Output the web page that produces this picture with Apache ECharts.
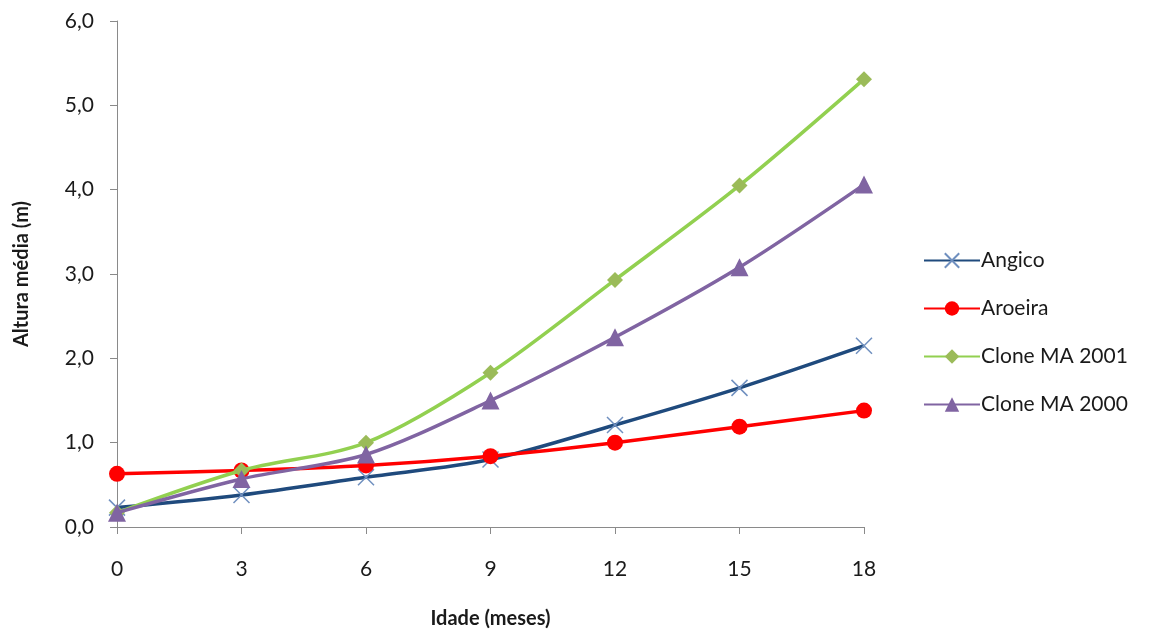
<!DOCTYPE html>
<html>
<head>
<meta charset="utf-8">
<script src="https://cdn.jsdelivr.net/npm/echarts@6/dist/echarts.min.js"></script>
<style>
  html, body { margin: 0; padding: 0; background: #fff; }
  #chart { width: 1159px; height: 633px; }
</style>
</head>
<body>
<div id="chart"></div>
<script>
// Idade (meses)
const ages = [0, 3, 6, 9, 12, 15, 18];
// Altura média (m) por espécie / clone
const angico = [0.23, 0.38, 0.59, 0.80, 1.21, 1.65, 2.15];
const aroeira = [0.63, 0.67, 0.73, 0.84, 1.00, 1.19, 1.38];
const cloneMA2001 = [0.17, 0.67, 1.00, 1.83, 2.93, 4.05, 5.31];
const cloneMA2000 = [0.17, 0.57, 0.86, 1.50, 2.25, 3.08, 4.06];

const FONT = 'Lato, "Open Sans", sans-serif';

function pairs(vals) {
  return ages.map((a, i) => [a, vals[i]]);
}

const chart = echarts.init(document.getElementById('chart'), null, { renderer: 'canvas' });

chart.setOption({
  animation: false,
  backgroundColor: '#ffffff',
  grid: {
    left: 117, right: 295, top: 21, bottom: 106,
    containLabel: false,
    outerBoundsMode: 'none'
  },
  legend: {
    orient: 'vertical',
    left: 918,
    top: 245,
    itemGap: 27,
    itemWidth: 56,
    itemHeight: 18,
    textStyle: { fontFamily: FONT, fontSize: 21, color: '#1a1a1a', padding: [0, 0, 0, -4] },
    data: ['Angico', 'Aroeira', 'Clone MA 2001', 'Clone MA 2000']
  },
  xAxis: {
    type: 'value',
    min: 0, max: 18, interval: 3,
    name: 'Idade (meses)',
    nameLocation: 'middle',
    nameGap: 82,
    nameTextStyle: { fontFamily: FONT, fontSize: 20, fontWeight: 'bold', color: '#1a1a1a' },
    axisLine: { show: true, onZero: false, lineStyle: { color: '#8a8a8a', width: 1 } },
    axisTick: { show: true, inside: false, length: 7, lineStyle: { color: '#8a8a8a' } },
    axisLabel: { fontFamily: FONT, fontSize: 21, color: '#1a1a1a', margin: 32 },
    splitLine: { show: false }
  },
  yAxis: {
    type: 'value',
    min: 0, max: 6, interval: 1,
    name: 'Altura média (m)',
    nameLocation: 'middle',
    nameGap: 85,
    nameRotate: 90,
    nameTextStyle: { fontFamily: FONT, fontSize: 20, fontWeight: 'bold', color: '#1a1a1a' },
    axisLine: { show: true, lineStyle: { color: '#8a8a8a', width: 1 } },
    axisTick: { show: true, inside: false, length: 7, lineStyle: { color: '#8a8a8a' } },
    axisLabel: {
      fontFamily: FONT, fontSize: 21, color: '#1a1a1a', margin: 23,
      formatter: v => v.toFixed(1).replace('.', ',')
    },
    splitLine: { show: false }
  },
  series: [
    {
      name: 'Angico',
      type: 'line',
      smooth: 0.3,
      data: pairs(angico),
      symbol: 'path://M0,0L10,10M10,0L0,10',
      symbolSize: 16,
      lineStyle: { color: '#1f4a7d', width: 3.5 },
      itemStyle: { color: 'rgba(0,0,0,0)', borderColor: '#6f8fbf', borderWidth: 1.5 },
      z: 3
    },
    {
      name: 'Aroeira',
      type: 'line',
      smooth: 0.3,
      data: pairs(aroeira),
      symbol: 'circle',
      symbolSize: 16,
      lineStyle: { color: '#ff0000', width: 3.5 },
      itemStyle: { color: '#ff0000', borderWidth: 0 },
      z: 4
    },
    {
      name: 'Clone MA 2001',
      type: 'line',
      smooth: 0.3,
      data: pairs(cloneMA2001),
      symbol: 'diamond',
      symbolSize: 16,
      lineStyle: { color: '#92d050', width: 3.5 },
      itemStyle: { color: '#9bbb59', borderWidth: 0 },
      z: 5
    },
    {
      name: 'Clone MA 2000',
      type: 'line',
      smooth: 0.3,
      data: pairs(cloneMA2000),
      symbol: 'triangle',
      symbolSize: 18,
      lineStyle: { color: '#8064a2', width: 3.5 },
      itemStyle: { color: '#8064a2', borderWidth: 0 },
      z: 6
    }
  ]
});
</script>
</body>
</html>
